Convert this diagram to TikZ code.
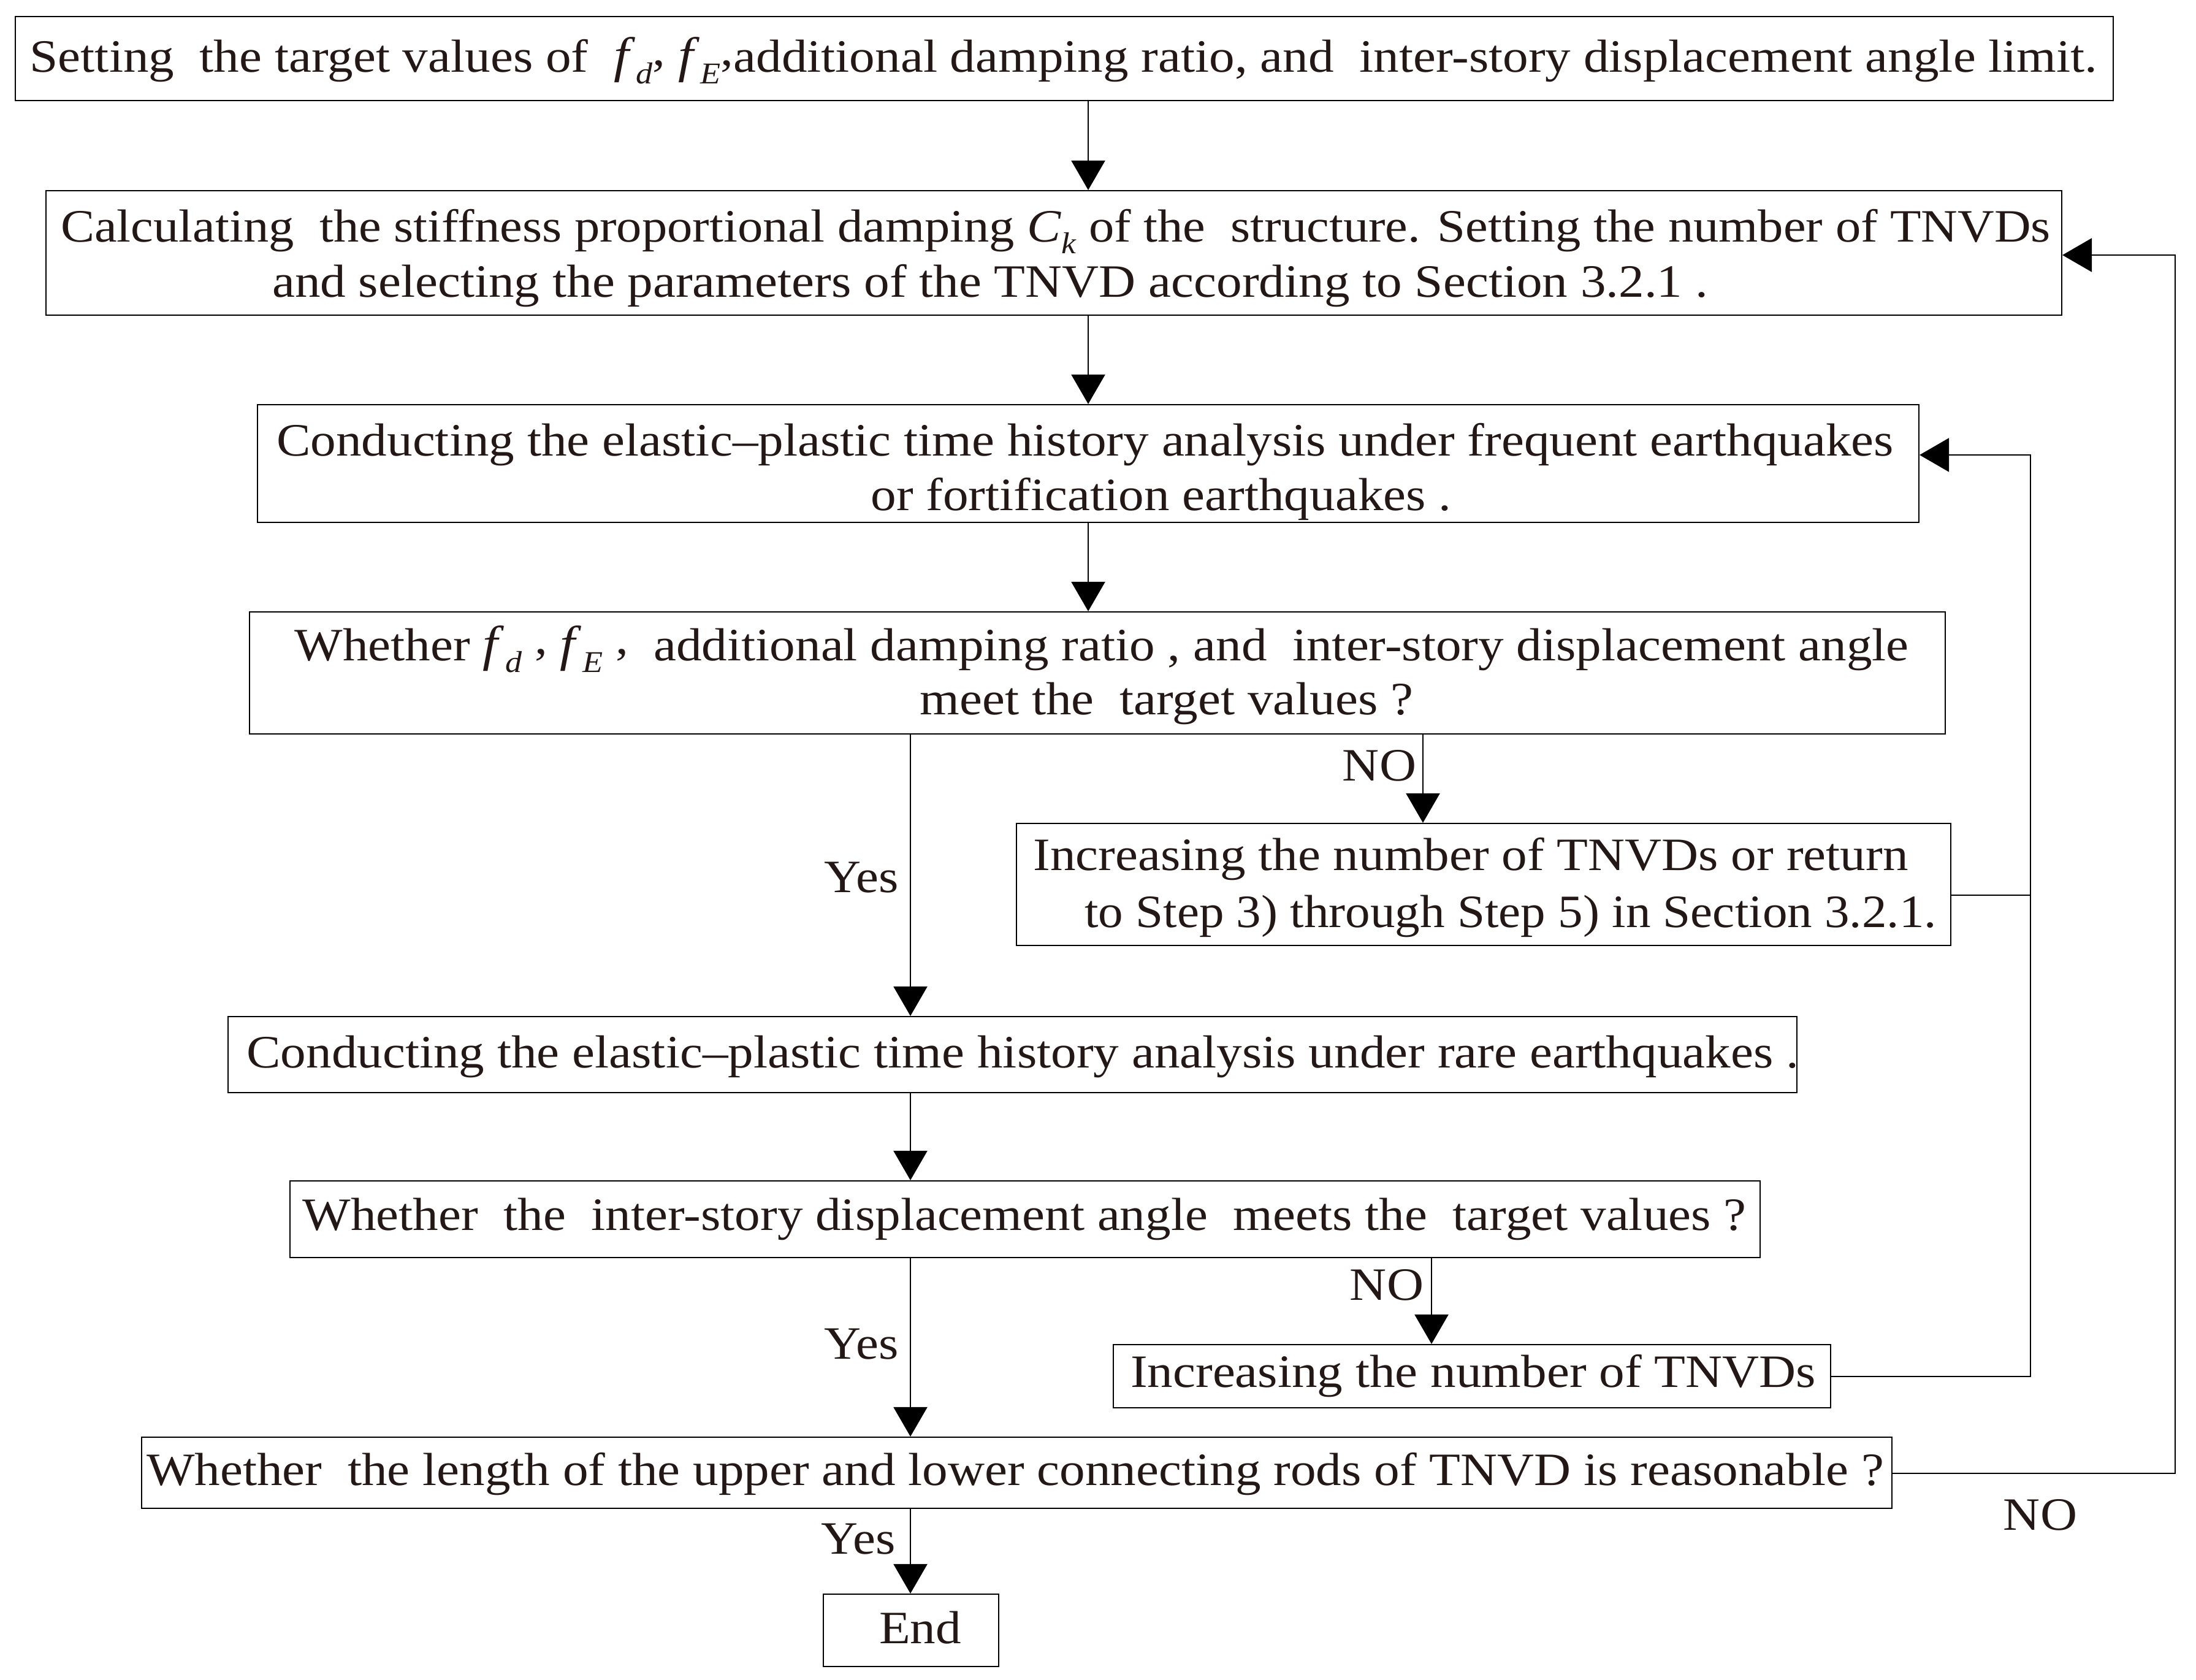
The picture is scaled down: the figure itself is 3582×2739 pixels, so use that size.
\documentclass[tikz,border=0pt]{standalone}
\usepackage{fontspec}
\setmainfont{Liberation Serif}[FakeStretch=1.10]
\usetikzlibrary{arrows.meta,fit}
\definecolor{ink}{RGB}{35,24,21}
\newcommand\lsub[1]{\raisebox{-0.55ex}{\fontsize{14}{14}\selectfont\itshape #1}}
\newcommand\fv[1]{{\fontsize{23}{25}\selectfont\textit{f}}\kern0.02em\lsub{#1}}
\newcommand\rc{\raisebox{0.3ex}{,}}
\begin{document}
\begin{tikzpicture}[x=0.01cm,y=-0.01cm,
  boxnode/.style={draw,line width=0.6pt,inner sep=0pt},
  txt/.style={anchor=base,inner sep=0pt,text=ink,font=\fontsize{21.5}{25}\selectfont},
  arr/.style={line width=0.6pt,-{Triangle[length=0.48cm,width=0.55cm]}},
  ln/.style={line width=0.6pt}]
\useasboundingbox (0,0) rectangle (3582,2739);
% boxes
\node[boxnode,fit={(25,27) (3447,164)}] (b1) {};
\node[boxnode,fit={(75,311) (3363,514)}] (b2) {};
\node[boxnode,fit={(420,660) (3130,852)}] (b3) {};
\node[boxnode,fit={(407,998) (3173,1197)}] (b4) {};
\node[boxnode,fit={(1658,1343) (3182,1542)}] (n1) {};
\node[boxnode,fit={(372,1658) (2931,1782)}] (b5) {};
\node[boxnode,fit={(473,1926) (2871,2051)}] (b6) {};
\node[boxnode,fit={(1816,2193) (2986,2296)}] (n2) {};
\node[boxnode,fit={(231,2344) (3086,2460)}] (b7) {};
\node[boxnode,fit={(1343,2600) (1629,2718)}] (e) {};
% texts
\node[txt] (t1) at (1735,117) {Setting \ the target values of \ \fv{d}\rc\ \fv{E}\rc additional damping ratio, and \ inter-story displacement angle limit.};
\node[txt] (t2a) at (1722,394) {\scalebox{0.993}[1]{Calculating \ the stiffness proportional damping \textit{C}\lsub{k} of the \ structure. Setting the number of TNVDs}};
\node[txt] (t2b) at (1615,484) {and selecting the parameters of the TNVD according to Section 3.2.1 .};
\node[txt] (t3a) at (1770,743) {Conducting the elastic–plastic time history analysis under frequent earthquakes};
\node[txt] (t3b) at (1894,832) {or fortification earthquakes .};
\node[txt] (t4a) at (1797,1077) {Whether \fv{d} \rc\ \fv{E} \rc\ \ additional damping ratio , and \ inter-story displacement angle};
\node[txt] (t4b) at (1903,1165) {meet the \ target values ?};
\node[txt] (n1a) at (2399,1419) {Increasing the number of TNVDs or return};
\node[txt] (n1b) at (2464,1512) {\scalebox{0.975}[1]{to Step 3) through Step 5) in Section 3.2.1.}};
\node[txt] (t5) at (1668,1741) {Conducting the elastic–plastic time history analysis under rare earthquakes .};
\node[txt] (t6) at (1671,2006) {Whether \ the \ inter-story displacement angle \ meets the \ target values ?};
\node[txt] (n2t) at (2403,2262) {Increasing the number of TNVDs};
\node[txt] (t7) at (1656,2422) {Whether \ the length of the upper and lower connecting rods of TNVD is reasonable ?};
\node[txt] (et) at (1501,2680) {End};
% labels
\node[txt] (y1) at (1405,1455) {Yes};
\node[txt] (no1) at (2250,1273) {NO};
\node[txt] (y2) at (1405,2216) {Yes};
\node[txt] (no2) at (2262,2120) {NO};
\node[txt] (no3) at (3328,2495) {NO};
\node[txt] (y3) at (1400,2534) {Yes};
% guide coordinates
\coordinate (xA) at (1775,0);
\coordinate (xB) at (1485,0);
\coordinate (xC) at (2321,0);
\coordinate (xD) at (2335,0);
\coordinate (c1) at (3312,2245);
\coordinate (c2) at (3312,742);
\coordinate (c3) at (3312,1460);
\coordinate (c4) at (3548,2403);
\coordinate (c5) at (3548,416);
% connectors
\draw[arr] (b1.south -| xA) -- (b2.north -| xA);
\draw[arr] (b2.south -| xA) -- (b3.north -| xA);
\draw[arr] (b3.south -| xA) -- (b4.north -| xA);
\draw[arr] (b4.south -| xB) -- (b5.north -| xB);
\draw[arr] (b4.south -| xC) -- (n1.north -| xC);
\draw[arr] (b5.south -| xB) -- (b6.north -| xB);
\draw[arr] (b6.south -| xB) -- (b7.north -| xB);
\draw[arr] (b6.south -| xD) -- (n2.north -| xD);
\draw[arr] (b7.south -| xB) -- (e.north -| xB);
\draw[arr] (n2.east |- c1) -- (c1) -- (c2) -- (b3.east |- c2);
\draw[ln] (n1.east |- c3) -- (c3);
\draw[arr] (b7.east |- c4) -- (c4) -- (c5) -- (b2.east |- c5);
\end{tikzpicture}
\end{document}
